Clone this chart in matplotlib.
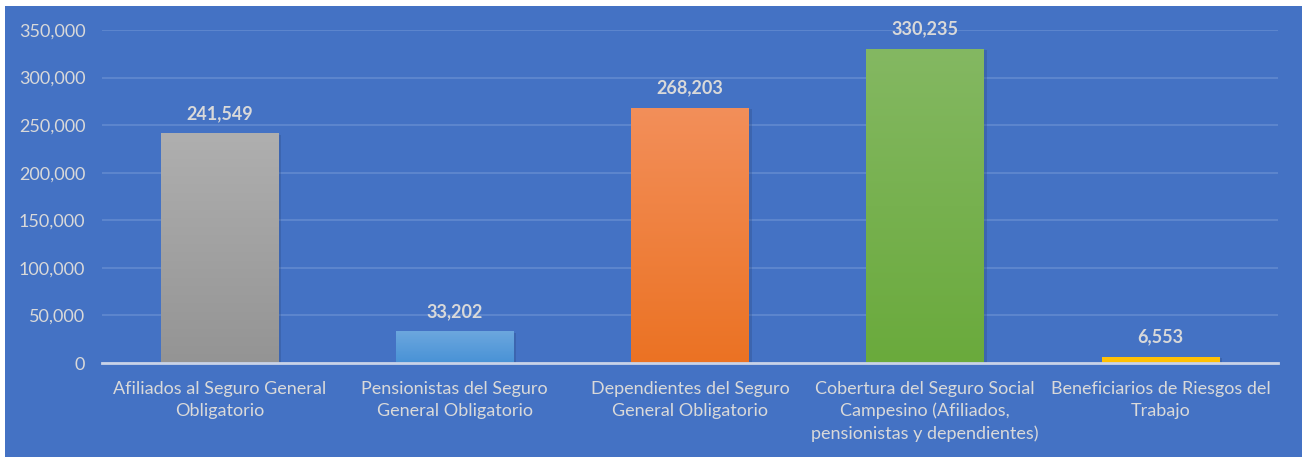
import matplotlib
matplotlib.use("Agg")
import matplotlib.pyplot as plt
import numpy as np
from matplotlib.patches import Rectangle
from matplotlib.colors import LinearSegmentedColormap
from matplotlib.ticker import FuncFormatter

categories = [
    "Afiliados al Seguro General\nObligatorio",
    "Pensionistas del Seguro\nGeneral Obligatorio",
    "Dependientes del Seguro\nGeneral Obligatorio",
    "Cobertura del Seguro Social\nCampesino (Afiliados,\npensionistas y dependientes)",
    "Beneficiarios de Riesgos del\nTrabajo",
]
values = [241549, 33202, 268203, 330235, 6553]
top_colors = ["#AFAFAF", "#6CA7DE", "#F38F5A", "#84B862", "#FFC20A"]
bottom_colors = ["#949494", "#4892D6", "#EB7223", "#6AAA3C", "#FFC000"]
yticks = [0, 50000, 100000, 150000, 200000, 250000, 300000, 350000]

plt.rcParams['font.family'] = ['Lato', 'DejaVu Sans']

W, H = 1304, 459
fig = plt.figure(figsize=(W / 100, H / 100), dpi=100)
fig.patch.set_facecolor("white")
bg = Rectangle((5 / W, 1 - 457 / H), (1302 - 5) / W, (457 - 6) / H,
               transform=fig.transFigure, facecolor="#4472C4", edgecolor="none", zorder=-10)
fig.patches.append(bg)

ax = fig.add_axes([102 / W, 1 - 363 / H, (1278 - 102) / W, (363 - 30) / H])
ax.set_facecolor("none")
x = np.arange(len(values))

bars = ax.bar(x, values, width=0.5, color="none", edgecolor="none", zorder=3)
for b, c1, c2 in zip(bars, top_colors, bottom_colors):
    cmap = LinearSegmentedColormap.from_list("g", [c2, c1])
    x0, w, h = b.get_x(), b.get_width(), b.get_height()
    sh = Rectangle((x0 + 0.012, -1500), w, h, facecolor="#2F4F8A", alpha=0.35,
                   edgecolor="none", zorder=2)
    ax.add_patch(sh)
    grad = np.linspace(0, 1, 256).reshape(-1, 1)
    im = ax.imshow(grad, cmap=cmap, origin="lower", aspect="auto",
                   extent=[x0, x0 + w, 0, h], zorder=3)
    im.set_clip_path(b)

ax.set_xlim(-0.5, len(values) - 0.5)
ax.set_ylim(0, 350000)

for xi, v in zip(x, values):
    ax.annotate(f"{v:,}", (xi, v), xytext=(0, 8), textcoords="offset points",
                ha="center", va="bottom", fontsize=13, fontweight="bold", color="#D9D9D9")

ax.set_yticks(yticks)
ax.yaxis.set_major_formatter(FuncFormatter(lambda v, p: f"{int(v):,}"))
ax.set_xticks(x)
ax.set_xticklabels(categories, linespacing=1.42, va="top")
ax.tick_params(axis="both", length=0, colors="#D9D9D9", labelsize=13)
ax.tick_params(axis="y", pad=12)
ax.tick_params(axis="x", pad=13)
ax.grid(axis="y", color="#6189D0", linewidth=1.2, zorder=1)
ax.set_axisbelow(True)
for s in ["top", "right", "left"]:
    ax.spines[s].set_visible(False)
ax.spines["bottom"].set_color("#C9D3E8")
ax.spines["bottom"].set_linewidth(2)
ax.spines["bottom"].set_zorder(4)

fig.savefig("out.png", dpi=100, facecolor=fig.get_facecolor())
